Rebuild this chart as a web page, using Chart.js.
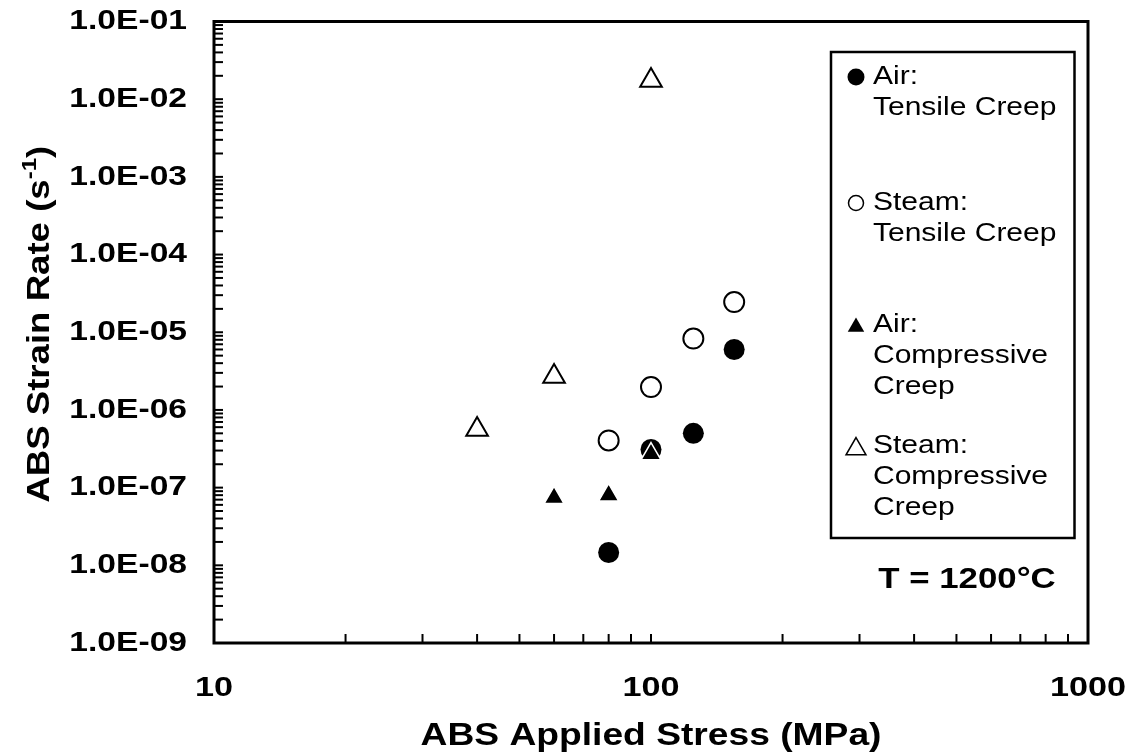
<!DOCTYPE html>
<html>
<head>
<meta charset="utf-8">
<script src="https://cdn.jsdelivr.net/npm/chart.js@4/dist/chart.umd.min.js"></script>
<style>
  html, body { margin: 0; padding: 0; background: #fff; }
  #c { display: block; }
</style>
</head>
<body>
<canvas id="c" width="1133" height="755"></canvas>
<script>
// ---------------- data ----------------
const xTickValues = [10, 100, 1000];
const xTickLabels = ['10', '100', '1000'];
const yTickValues = [1e-9, 1e-8, 1e-7, 1e-6, 1e-5, 1e-4, 1e-3, 1e-2, 1e-1];
const yTickLabels = ['1.0E-09', '1.0E-08', '1.0E-07', '1.0E-06', '1.0E-05', '1.0E-04', '1.0E-03', '1.0E-02', '1.0E-01'];

const airTensileStress = [80, 100, 125, 155];
const airTensileRate   = [1.46e-8, 3.1e-7, 5.0e-7, 6.0e-6];

const steamTensileStress = [80, 100, 125, 155];
const steamTensileRate   = [4.05e-7, 1.97e-6, 8.3e-6, 2.45e-5];

const airCompStress = [60, 80, 100];
const airCompRate   = [7.4e-8, 8.0e-8, 2.7e-7];

const steamCompStress = [40, 60, 100];
const steamCompRate   = [5.6e-7, 2.7e-6, 1.74e-2];

const legendLabels = [
  ['Air:', 'Tensile Creep'],
  ['Steam:', 'Tensile Creep'],
  ['Air:', 'Compressive', 'Creep'],
  ['Steam:', 'Compressive', 'Creep']
];
const xTitle = 'ABS Applied Stress (MPa)';
const yTitleMain = 'ABS Strain Rate (s';
const yTitleSup = '-1';
const yTitleEnd = ')';
const annotation = 'T = 1200\u00B0C';

// ---------------- helpers ----------------
const FONT = '"Liberation Sans", Arial, Helvetica, sans-serif';
const SX = 1.2; // horizontal text stretch of the reference

function pts(xs, ys) { return xs.map((x, i) => ({ x: x, y: ys[i] })); }

function minorTicks(minExp, maxExp) {
  const out = [];
  for (let e = minExp; e < maxExp; e++) {
    for (let m = 1; m <= 9; m++) out.push(m * Math.pow(10, e));
  }
  out.push(Math.pow(10, maxExp));
  return out;
}
function isDecade(v) {
  const l = Math.log10(v);
  return Math.abs(l - Math.round(l)) < 1e-9;
}
function labelFor(values, labels, v) {
  for (let i = 0; i < values.length; i++) {
    if (Math.abs(Math.log10(values[i]) - Math.log10(v)) < 1e-9) return labels[i];
  }
  return '';
}
function zeroPadding(s) {
  s.paddingLeft = 0; s.paddingRight = 0; s.paddingTop = 0; s.paddingBottom = 0;
}

const canvas = document.getElementById('c');
const ctx = canvas.getContext('2d');
const origFill = ctx.fillText.bind(ctx);
ctx.fillText = function (text, x, y) {
  this.save();
  this.translate(x, y);
  this.scale(SX, 1);
  origFill(text, 0, 0);
  this.restore();
};

// ---------------- plugins ----------------
const framePlugin = {
  id: 'frame',
  beforeDatasetsDraw(chart) {
    const { ctx, chartArea: a, scales } = chart;
    ctx.save();
    ctx.strokeStyle = '#000';
    ctx.lineWidth = 2;
    ctx.lineCap = 'butt';
    const tl = 9;
    scales.x.ticks.forEach(t => {
      const px = scales.x.getPixelForValue(t.value);
      ctx.beginPath();
      ctx.moveTo(px, a.bottom);
      ctx.lineTo(px, a.bottom - tl);
      ctx.stroke();
    });
    scales.y.ticks.forEach(t => {
      const py = scales.y.getPixelForValue(t.value);
      ctx.beginPath();
      ctx.moveTo(a.left, py);
      ctx.lineTo(a.left + tl, py);
      ctx.stroke();
    });
    ctx.lineWidth = 3;
    ctx.strokeRect(a.left, a.top, a.right - a.left, a.bottom - a.top);
    ctx.restore();
  }
};

const textPlugin = {
  id: 'texts',
  afterDraw(chart) {
    const { ctx, chartArea: a } = chart;
    ctx.save();
    ctx.fillStyle = '#000';

    // y-axis title with superscript
    const cy = (a.top + a.bottom) / 2 - 8;
    ctx.translate(41, cy);
    ctx.rotate(-Math.PI / 2);
    ctx.textBaseline = 'middle';
    ctx.textAlign = 'left';
    const fMain = 'bold 30.5px ' + FONT;
    const fSup = 'bold 20px ' + FONT;
    ctx.font = fMain; const w1 = ctx.measureText(yTitleMain).width * SX;
    ctx.font = fSup;  const w2 = ctx.measureText(yTitleSup).width * SX;
    ctx.font = fMain; const w3 = ctx.measureText(yTitleEnd).width * SX;
    let x = -(w1 + w2 + w3) / 2;
    ctx.font = fMain; ctx.fillText(yTitleMain, x, 0); x += w1;
    ctx.font = fSup;  ctx.fillText(yTitleSup, x, -11); x += w2;
    ctx.font = fMain; ctx.fillText(yTitleEnd, x, 0);
    ctx.restore();

    // legend box
    ctx.save();
    ctx.strokeStyle = '#000';
    ctx.lineWidth = 2.5;
    ctx.strokeRect(831, 52, 1074.5 - 831, 538 - 52);

    const entryY = [77, 203, 325, 446];
    const lineH = 31;
    const markers = [
      { style: 'circle', r: 8.5, fill: '#000', stroke: '#000', lw: 0, dy: 0 },
      { style: 'circle', r: 7.5, fill: '#fff', stroke: '#000', lw: 1.5, dy: 0 },
      { style: 'triangle', r: 9.5, fill: '#000', stroke: '#000', lw: 0, dy: 2 },
      { style: 'triangle', r: 11.5, fill: '#fff', stroke: '#000', lw: 1.5, dy: 3 }
    ];
    ctx.font = '25px ' + FONT;
    ctx.textBaseline = 'middle';
    ctx.textAlign = 'left';
    legendLabels.forEach((lines, i) => {
      const m = markers[i];
      ctx.fillStyle = m.fill;
      ctx.strokeStyle = m.stroke;
      ctx.lineWidth = m.lw;
      Chart.helpers.drawPoint(ctx, { pointStyle: m.style, radius: m.r, rotation: 0, borderWidth: m.lw }, 856, entryY[i] + m.dy);
      ctx.fillStyle = '#000';
      lines.forEach((ln, j) => {
        ctx.fillText(ln, 873, entryY[i] + j * lineH);
      });
    });

    // annotation
    ctx.font = 'bold 29px ' + FONT;
    ctx.textAlign = 'center';
    ctx.fillText(annotation, 967, 580);
    ctx.restore();
  }
};

// ---------------- chart ----------------
new Chart(ctx, {
  type: 'scatter',
  data: {
    datasets: [
      {
        label: legendLabels[0].join(' '),
        data: pts(airTensileStress, airTensileRate),
        pointStyle: 'circle', pointRadius: 10.5,
        backgroundColor: '#000', borderColor: '#000', borderWidth: 0,
        order: 3
      },
      {
        label: legendLabels[1].join(' '),
        data: pts(steamTensileStress, steamTensileRate),
        pointStyle: 'circle', pointRadius: 10,
        backgroundColor: '#fff', borderColor: '#000', borderWidth: 2,
        order: 2
      },
      {
        label: legendLabels[2].join(' '),
        data: pts(airCompStress, airCompRate),
        pointStyle: 'triangle', pointRadius: 11.5,
        backgroundColor: '#000', borderColor: '#fff', borderWidth: 1.5,
        order: 0
      },
      {
        label: legendLabels[3].join(' '),
        data: pts(steamCompStress, steamCompRate),
        pointStyle: 'triangle', pointRadius: 12.5,
        backgroundColor: '#fff', borderColor: '#000', borderWidth: 2,
        order: 1
      }
    ]
  },
  options: {
    responsive: false,
    animation: false,
    events: [],
    layout: { padding: { left: 0, top: 21.5, right: 45, bottom: 0 } },
    plugins: {
      legend: { display: false },
      tooltip: { enabled: false },
      title: { display: false }
    },
    scales: {
      x: {
        type: 'logarithmic',
        position: 'bottom',
        min: 10, max: 1000,
        afterBuildTicks: s => { s.ticks = minorTicks(1, 3).map(v => ({ value: v, major: isDecade(v) })); },
        afterFit: s => { s.height = 112; zeroPadding(s); },
        grid: { display: false, drawTicks: false },
        border: { display: false },
        ticks: {
          autoSkip: false, maxRotation: 0, minRotation: 0,
          padding: 28,
          color: '#000',
          font: { family: FONT, size: 28.5, weight: 'bold' },
          callback: v => labelFor(xTickValues, xTickLabels, v)
        },
        title: {
          display: true, text: xTitle, color: '#000',
          padding: { top: 0, bottom: 0 },
          font: { family: FONT, size: 31, weight: 'bold' }
        }
      },
      y: {
        type: 'logarithmic',
        position: 'left',
        min: 1e-9, max: 1e-1,
        afterBuildTicks: s => { s.ticks = minorTicks(-9, -1).map(v => ({ value: v, major: isDecade(v) })); },
        afterFit: s => { s.width = 214; zeroPadding(s); },
        grid: { display: false, drawTicks: false },
        border: { display: false },
        ticks: {
          autoSkip: false,
          padding: 27,
          color: '#000',
          font: { family: FONT, size: 28, weight: 'bold' },
          callback: v => labelFor(yTickValues, yTickLabels, v)
        },
        title: { display: false }
      }
    }
  },
  plugins: [framePlugin, textPlugin]
});
</script>
</body>
</html>
